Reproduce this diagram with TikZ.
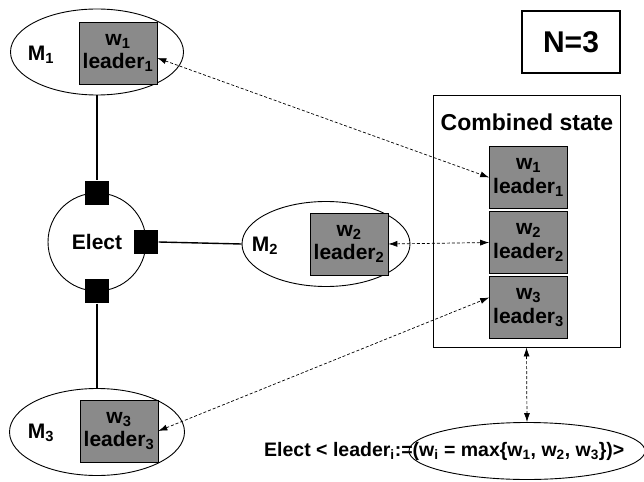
\documentclass[tikz,border=0pt]{standalone}
\usepackage{fontspec}
\setmainfont{Liberation Sans}
\usetikzlibrary{shapes.geometric,arrows.meta}
\begin{document}
\begin{tikzpicture}[x=1pt,y=-1pt,
  every node/.style={font=\bfseries\fontsize{21}{21}\selectfont},
  proc/.style={ellipse,draw,line width=0.9pt,inner sep=0pt},
  state/.style={draw,line width=0.6pt,fill=black!46,minimum width=78pt,
    minimum height=62pt,inner sep=0pt,align=center,
    font=\bfseries\fontsize{21}{23.5}\selectfont},
  port/.style={fill=black,minimum size=24pt,inner sep=0pt},
  link/.style={line width=1.4pt},
  sync/.style={dash pattern=on 3pt off 2pt,line width=0.7pt,
    {Latex[length=9pt,width=6pt]}-{Latex[length=9pt,width=6pt]}}
]
\useasboundingbox (0,0) rectangle (644,481);

% process M1
\node[proc,minimum width=173pt,minimum height=86pt] (M1) at (97,52) {};
\node (M1lbl) at (41,55) {M\textsubscript{1}};
\node[state] (b1) at (118,53) {w\textsubscript{1}\\leader\textsubscript{1}};

% election component with its three ports
\node[circle,draw,line width=0.9pt,minimum size=98pt,inner sep=0pt] (elect) at (97,242) {Elect};
\node[port] (pN) at (elect.north) {};
\node[port] (pE) at (elect.east) {};
\node[port] (pS) at (elect.south) {};

% process M2
\node[proc,minimum width=168pt,minimum height=85pt] (M2) at (326,244) {};
\node (M2lbl) at (265,246) {M\textsubscript{2}};
\node[state] (b2) at (349,244) {w\textsubscript{2}\\leader\textsubscript{2}};

% process M3
\node[proc,minimum width=175pt,minimum height=87pt] (M3) at (97,432) {};
\node (M3lbl) at (41,433) {M\textsubscript{3}};
\node[state] (b3) at (119,431) {w\textsubscript{3}\\leader\textsubscript{3}};

% combined state
\node[draw,line width=0.9pt,minimum width=187pt,minimum height=252pt] (comb) at (526.5,221) {};
\node[font=\bfseries\fontsize{23}{23}\selectfont] (combt) at (527,122) {Combined state};
\node[state] (c1) at (528.5,177.5) {w\textsubscript{1}\\leader\textsubscript{1}};
\node[state] (c2) at (528.5,242.5) {w\textsubscript{2}\\leader\textsubscript{2}};
\node[state] (c3) at (528.5,307.5) {w\textsubscript{3}\\leader\textsubscript{3}};

% number of processes
\node[draw,line width=1.5pt,minimum width=98pt,minimum height=62pt,
  font=\bfseries\fontsize{30}{30}\selectfont] (N) at (571,42) {N=3};

% election goal
\node[proc,minimum width=236pt,minimum height=57pt] (goal) at (527,451) {};
\node[anchor=west,inner sep=0pt,font=\bfseries\fontsize{19.5}{20}\selectfont] (goaltxt) at (264,451)
  {Elect < leader\textsubscript{i}:=(w\textsubscript{i} = max\{w\textsubscript{1}, w\textsubscript{2}, w\textsubscript{3}\})>};

% connections
\draw[link] (M1.south) -- (pN.north);
\draw[link] (pE.east) -- (M2.west);
\draw[link] (pS.south) -- (M3.north);
\draw[sync] ([yshift=-5pt]b1.east) -- (c1.west);
\draw[sync] (b2.east) -- (c2.west);
\draw[sync] (b3.east) -- ([yshift=10pt]c3.west);
\draw[sync] (comb.south) -- (goal.north);
\end{tikzpicture}
\end{document}
